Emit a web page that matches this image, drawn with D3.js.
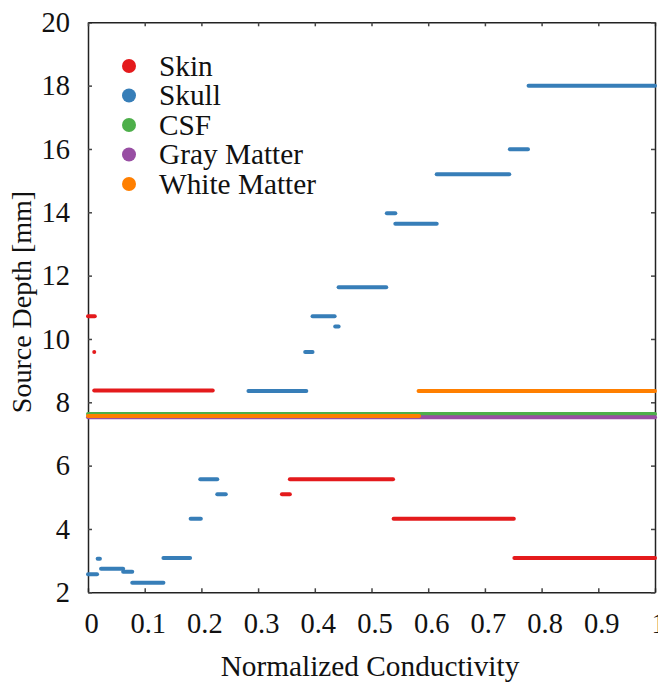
<!DOCTYPE html>
<html>
<head>
<meta charset="utf-8">
<script src="https://cdn.jsdelivr.net/npm/d3@7"></script>
<style>
  body { margin: 0; background: #fff; }
  text { font-family: "Liberation Serif", "Times New Roman", serif; fill: #111; }
</style>
</head>
<body>
<svg id="chart" width="658" height="682"></svg>
<script>
// tissue names and colours (legend order)
const tissues = ["Skin", "Skull", "CSF", "Gray Matter", "White Matter"];
const tissueColors = ["#e41a1c", "#377eb8", "#4daf4a", "#984ea3", "#ff7f00"];

// segments: [conductivity start, conductivity end, source depth]
const skinSegments = [
    [0.0, 0.012, 10.72], [0.011, 0.011, 9.59], [0.011, 0.220, 8.37],
    [0.342, 0.356, 5.10], [0.356, 0.538, 5.57], [0.539, 0.751, 4.32],
    [0.752, 1.0, 3.08]
];
const skullSegments = [
    [0.0, 0.016, 2.57], [0.017, 0.021, 3.06], [0.023, 0.062, 2.74],
    [0.062, 0.078, 2.65], [0.078, 0.133, 2.30], [0.133, 0.180, 3.08],
    [0.181, 0.199, 4.32], [0.198, 0.228, 5.57], [0.228, 0.243, 5.10],
    [0.283, 0.385, 8.36], [0.383, 0.396, 9.59], [0.396, 0.435, 10.72],
    [0.436, 0.442, 10.39], [0.442, 0.526, 11.63], [0.527, 0.542, 13.97],
    [0.542, 0.615, 13.64], [0.615, 0.743, 15.20], [0.744, 0.776, 15.99],
    [0.777, 1.0, 18.00]
];
const csfSegments = [[0.0, 1.0, 7.63]];
const graySegments = [[0.0, 1.0, 7.53]];
const whiteSegments = [[0.0, 0.584, 7.57], [0.583, 1.0, 8.36]];

const xTicks = [0, 0.1, 0.2, 0.3, 0.4, 0.5, 0.6, 0.7, 0.8, 0.9, 1];
const xTickLabels = ["0", "0.1", "0.2", "0.3", "0.4", "0.5", "0.6", "0.7", "0.8", "0.9", "1"];
const yTicks = [2, 4, 6, 8, 10, 12, 14, 16, 18, 20];

const svg = d3.select("#chart");
const plotLeft = 88, plotRight = 655, plotTop = 22.3, plotBottom = 592.3;

const x = d3.scaleLinear().domain([0, 1]).range([plotLeft, plotRight]);
const y = d3.scaleLinear().domain([2, 20]).range([plotBottom, plotTop]);

// axes with inward ticks
const xAxis = svg.append("g")
    .attr("transform", `translate(0,${plotBottom})`)
    .call(d3.axisBottom(x).tickValues(xTicks).tickSize(-4).tickSizeOuter(0)
        .tickPadding(20.7).tickFormat((d, i) => xTickLabels[i]));
xAxis.selectAll("text").attr("dx", 3);

const yAxis = svg.append("g")
    .attr("transform", `translate(${plotLeft},0)`)
    .call(d3.axisLeft(y).tickValues(yTicks).tickSize(-4).tickSizeOuter(0)
        .tickPadding(18).tickFormat(d3.format("d")));

svg.append("g")
    .attr("transform", `translate(0,${plotTop})`)
    .call(d3.axisTop(x).tickValues(xTicks).tickSize(-4).tickSizeOuter(0).tickFormat(""));
svg.append("g")
    .attr("transform", `translate(${plotRight},0)`)
    .call(d3.axisRight(y).tickValues(yTicks).tickSize(-4).tickSizeOuter(0).tickFormat(""));

svg.selectAll(".tick text")
    .style("font-family", '"Liberation Serif", serif')
    .style("font-size", "28.5px")
    .attr("fill", "#111");
svg.selectAll(".domain").attr("stroke", "#222").attr("stroke-width", 1.5);
svg.selectAll(".tick line").attr("stroke", "#444").attr("stroke-width", 1.5);

// data segments, drawn so orange sits on top like the original
const plot = svg.append("g");
const allSeries = [skinSegments, skullSegments, csfSegments, graySegments, whiteSegments];
allSeries.forEach((segs, i) => {
    plot.selectAll(null)
        .data(segs)
        .enter().append("line")
        .attr("x1", d => x(d[0]))
        .attr("x2", d => x(d[1]))
        .attr("y1", d => y(d[2]))
        .attr("y2", d => y(d[2]))
        .attr("stroke", tissueColors[i])
        .attr("stroke-width", 4)
        .attr("stroke-linecap", "round");
});

// legend
const legend = svg.append("g");
tissues.forEach((name, i) => {
    const cy = 66 + i * 29.5;
    legend.append("circle")
        .attr("cx", 129).attr("cy", cy).attr("r", 7)
        .attr("fill", tissueColors[i]);
    legend.append("text")
        .attr("x", 159).attr("y", cy + 9.5)
        .style("font-size", "29.3px")
        .text(name);
});

// axis titles
svg.append("text")
    .attr("x", 370)
    .attr("y", 676)
    .attr("text-anchor", "middle")
    .style("font-size", "29.3px")
    .text("Normalized Conductivity");

svg.append("text")
    .attr("transform", "translate(31,302) rotate(-90)")
    .attr("text-anchor", "middle")
    .style("font-size", "28px")
    .text("Source Depth [mm]");
</script>
</body>
</html>
